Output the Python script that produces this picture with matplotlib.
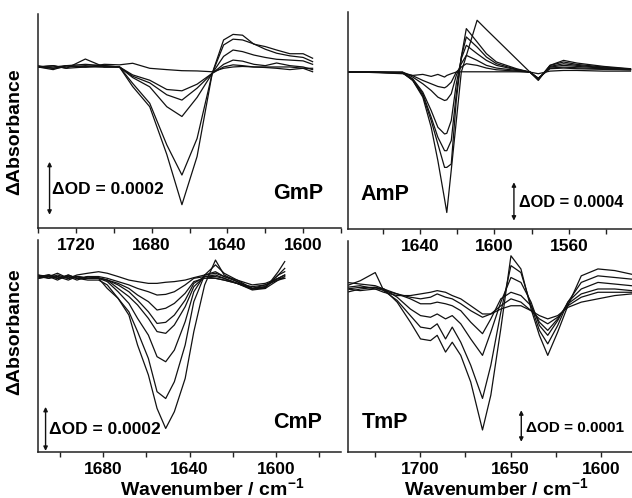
import matplotlib

matplotlib.use("Agg")
import matplotlib.pyplot as plt
from matplotlib.ticker import MultipleLocator

plt.rcParams["font.family"] = ["Liberation Sans", "DejaVu Sans"]
plt.rcParams["font.weight"] = "bold"
plt.rcParams["mathtext.fontset"] = "custom"
plt.rcParams["mathtext.rm"] = "Liberation Sans:bold"
plt.rcParams["mathtext.it"] = "Liberation Sans:bold"
plt.rcParams["mathtext.bf"] = "Liberation Sans:bold"

# values in units of 1e-4 OD
gmp_wn = [1740, 1732, 1725, 1715, 1705, 1697, 1690, 1681, 1672, 1664, 1656,
          1648, 1642, 1637, 1632, 1626, 1620, 1614, 1607, 1600, 1595]
gmp_curves = [
    [0.0, -0.1, 0.05, 0.1, 0.05, 0.0, -0.74, -1.5, -3.3, -5.2, -3.38, -0.24, 1.02, 1.23, 1.2, 0.86, 0.77, 0.64, 0.5, 0.5, 0.33],
    [0.05, -0.05, 0.0, 0.05, 0.0, 0.0, -0.62, -1.37, -2.94, -4.08, -2.7, -0.24, 0.83, 1.05, 1.02, 0.87, 0.67, 0.52, 0.42, 0.36, 0.2],
    [0.0, 0.05, -0.05, 0.0, 0.05, 0.0, -0.4, -0.75, -1.5, -1.87, -1.15, -0.24, 0.4, 0.64, 0.58, 0.45, 0.36, 0.29, 0.26, 0.23, 0.1],
    [0.0, -0.05, 0.05, 0.0, 0.0, 0.0, -0.35, -0.6, -1.05, -1.25, -0.8, -0.24, 0.1, 0.26, 0.22, 0.1, 0.05, 0.15, 0.05, 0.0, -0.1],
    [0.0, 0.05, -0.05, 0.3, 0.0, 0.0, -0.3, -0.5, -0.85, -0.9, -0.65, -0.24, 0.0, 0.08, 0.05, 0.0, -0.02, -0.05, -0.1, -0.05, -0.18],
    [0.0, 0.0, 0.05, 0.0, 0.1, 0.08, 0.14, -0.05, -0.1, -0.14, -0.15, -0.18, -0.05, 0.0, 0.02, 0.0, 0.0, 0.0, 0.0, -0.05, -0.05],
]

amp_wn = [1680, 1667.4, 1649.3, 1643.9, 1638.5, 1634.0, 1630.4, 1626.8, 1625.6, 1623.2, 1620.5, 1617.8,
          1615.1, 1609.3, 1604.3, 1598.9, 1588.1, 1580.9, 1576.4, 1570.1, 1562.8, 1555.6, 1541.2, 1526.8]
amp_curves = [
    [0, 0, 0, -0.87, -2.61, -5.75, -9.23, -13.24, -14.63, -10.21, -5.12, 0, 1.71, 5.40, 4.43, 3.41, 1.36, 0, -0.87, 0.70, 1.22, 0.94, 0.59, 0.35],
    [0, 0, -0.10, -0.87, -2.44, -5.05, -7.49, -9.93, -9.93, -9.58, -2.96, 1.57, 4.53, 3.14, 1.92, 1.05, 0.35, 0, -0.77, 0.70, 1.05, 0.80, 0.52, 0.31],
    [0, 0, -0.10, -0.80, -2.26, -4.70, -6.79, -8.19, -8.19, -7.14, -2.26, 1.57, 3.66, 2.61, 1.57, 0.87, 0.28, 0, -0.73, 0.59, 0.87, 0.70, 0.45, 0.28],
    [0, 0, -0.07, -0.70, -2.09, -4.01, -5.75, -6.45, -6.38, -5.05, -1.22, 1.39, 2.79, 1.92, 1.22, 0.70, 0.24, 0, -0.70, 0.52, 0.70, 0.59, 0.42, 0.28],
    [0, 0, -0.03, -0.52, -1.22, -1.92, -2.61, -2.96, -2.89, -2.26, -0.35, 0.87, 1.74, 1.22, 0.70, 0.42, 0.17, 0, -0.66, 0.42, 0.52, 0.45, 0.35, 0.24],
    [0, 0, -0.03, -0.38, -0.87, -1.22, -1.50, -1.64, -1.50, -1.05, 0, 0.52, 0.87, 0.70, 0.42, 0.24, 0.10, 0, -0.63, 0.35, 0.42, 0.35, 0.28, 0.24],
    [0, -0.03, -0.17, -0.35, -0.24, -0.45, -0.24, -0.52, -0.35, -0.17, 0, 0.03, 0.03, 0.03, 0.03, 0.03, 0.03, 0, -0.17, 0.10, 0.17, 0.17, 0.10, 0.10],
]

cmp_wn = [1710, 1705, 1701, 1696, 1692, 1687, 1682, 1678, 1673, 1668, 1664, 1659, 1655,
          1651, 1647, 1642, 1638, 1633, 1628, 1624, 1618, 1611, 1605, 1599, 1596]
cmp_curves = [
    [0.02, 0.09, -0.06, 0.02, -0.06, -0.14, -0.14, -0.36, -0.97, -1.73, -3.09, -4.45, -5.97, -6.88, -6.12, -4.61, -2.48, -0.36, 0.77, 0.09, -0.21, -0.52, -0.52, -0.14, 0.02],
    [0.09, 0.02, 0.17, -0.06, 0.02, -0.06, -0.06, -0.52, -0.97, -1.58, -2.48, -3.70, -5.21, -5.52, -4.76, -3.09, -1.12, 0.09, 0.55, 0.17, -0.14, -0.52, -0.44, -0.06, 0.09],
    [-0.06, 0.02, -0.14, 0.09, -0.06, -0.06, -0.06, -0.21, -0.67, -1.20, -1.88, -2.64, -3.62, -3.85, -3.32, -2.03, -0.67, 0.09, 0.24, 0.02, -0.21, -0.55, -0.48, 0.09, 0.39],
    [0.09, -0.06, 0.02, -0.14, 0.02, -0.06, -0.06, -0.14, -0.52, -0.89, -1.27, -1.88, -2.48, -2.56, -2.18, -1.35, -0.44, 0.02, 0.09, -0.06, -0.29, -0.59, -0.52, 0.24, 0.70],
    [-0.06, 0.09, -0.06, 0.02, -0.14, 0.02, -0.06, -0.14, -0.36, -0.67, -1.05, -1.58, -2.11, -2.06, -1.73, -1.05, -0.29, 0.02, 0.02, -0.06, -0.29, -0.55, -0.44, 0.09, 0.24],
    [0.02, -0.06, 0.09, -0.06, 0.02, -0.06, -0.03, -0.14, -0.29, -0.52, -0.82, -1.12, -1.50, -1.42, -1.20, -0.74, -0.21, -0.06, -0.06, -0.14, -0.29, -0.52, -0.36, -0.06, -0.06],
    [-0.06, 0.02, -0.06, 0.09, -0.06, 0.02, 0.02, -0.06, -0.21, -0.36, -0.52, -0.67, -0.82, -0.79, -0.67, -0.36, -0.06, 0.02, -0.06, -0.14, -0.29, -0.44, -0.36, -0.14, -0.06],
    [0.02, 0.09, 0.02, -0.06, 0.09, 0.17, 0.24, 0.17, 0.02, -0.14, -0.21, -0.29, -0.29, -0.24, -0.21, -0.14, -0.03, 0.09, 0.17, 0.02, -0.14, -0.36, -0.29, -0.06, 0.09],
]

tmp_wn = [1740.4, 1733.0, 1724.7, 1720.0, 1712.6, 1705.3, 1699.7, 1694.2, 1690.5, 1685.9, 1682.2, 1677.5, 1672.0, 1665.5,
          1660.9, 1655.4, 1649.8, 1644.3, 1638.7, 1634.1, 1629.5, 1624.0, 1618.4, 1611.0, 1601.8, 1592.5, 1583.3]
tmp_curves = [
    [0.01, 0.06, -0.04, -0.04, -0.44, -1.05, -1.56, -1.61, -1.45, -1.96, -1.66, -2.06, -2.87, -4.33, -3.27, -1.25, 0.97, 0.57, -0.65, -1.45, -2.06, -1.35, -0.55, 0.36, 0.57, 0.52, 0.41],
    [0.06, 0.21, 0.46, -0.09, -0.39, -0.85, -1.20, -1.25, -1.10, -1.56, -1.20, -1.66, -2.36, -3.37, -2.36, -0.75, 0.67, 0.46, -0.55, -1.30, -1.71, -1.15, -0.44, 0.16, 0.36, 0.31, 0.26],
    [0.16, 0.11, 0.06, -0.04, -0.29, -0.65, -0.85, -0.90, -0.80, -0.95, -0.85, -1.10, -1.56, -2.06, -1.35, -0.44, 0.31, 0.16, -0.44, -1.15, -1.45, -1.00, -0.44, -0.04, 0.16, 0.11, 0.06],
    [-0.04, 0.01, 0.01, -0.04, -0.19, -0.34, -0.49, -0.49, -0.44, -0.49, -0.55, -0.70, -1.05, -1.40, -0.95, -0.34, -0.14, -0.24, -0.55, -1.05, -1.30, -0.95, -0.49, -0.19, -0.04, -0.04, -0.09],
    [-0.14, -0.04, 0.01, -0.09, -0.19, -0.29, -0.34, -0.29, -0.19, -0.29, -0.34, -0.49, -0.70, -0.90, -0.80, -0.55, -0.34, -0.44, -0.70, -0.95, -1.10, -0.90, -0.55, -0.29, -0.14, -0.14, -0.14],
    [-0.04, -0.09, -0.04, -0.14, -0.24, -0.24, -0.19, -0.14, -0.09, -0.14, -0.24, -0.34, -0.55, -0.80, -0.80, -0.65, -0.55, -0.55, -0.70, -0.85, -0.95, -0.85, -0.60, -0.44, -0.34, -0.24, -0.19],
]

W, H = 632, 498


def frac_rect(left, top, right, bottom):
    return [left / W, 1 - bottom / H, (right - left) / W, (bottom - top) / H]


def style_axis(ax, xlim, ylim, major, minor):
    ax.set_xlim(*xlim)
    ax.set_ylim(*ylim)
    for side in ("top", "right"):
        ax.spines[side].set_visible(False)
    for side in ("left", "bottom"):
        ax.spines[side].set_linewidth(1.1)
        ax.spines[side].set_color("#222222")
    ax.set_yticks([])
    ax.xaxis.set_major_locator(MultipleLocator(major))
    ax.xaxis.set_minor_locator(MultipleLocator(minor))
    ax.tick_params(axis="x", which="both", direction="out", length=3.5, width=1.0,
                   color="#222222", labelsize=12.5, pad=3.5)
    for lbl in ax.get_xticklabels():
        lbl.set_fontweight("bold")


def scale_bar(ax, x, y0, y1, text_x, text_y, text, size):
    ax.annotate("", xy=(x, y0), xytext=(x, y1),
                arrowprops=dict(arrowstyle="<|-|>", color="#111111", lw=1.0,
                                mutation_scale=6, shrinkA=0, shrinkB=0))
    ax.text(text_x, text_y, text, ha="left", va="center", fontsize=size, fontweight="bold")


def main():
    fig = plt.figure(figsize=(W / 100, H / 100), dpi=100)

    panels = [
        dict(rect=frac_rect(38, 14, 341, 228), wn=gmp_wn, curves=gmp_curves,
             xlim=(1740, 1580), ylim=(-6.08, 2.0), major=40, minor=20,
             name="GmP", name_xy=(1616, -4.79),
             bar=(1733.9, -3.58, -5.58, 1732.5, -4.64, "ΔOD = 0.0002", 12.5)),
        dict(rect=frac_rect(347.5, 12, 632, 229), wn=amp_wn, curves=amp_curves,
             xlim=(1679, 1526), ylim=(-16.35, 6.26), major=40, minor=20,
             name="AmP", name_xy=(1671.8, -12.77),
             bar=(1589.5, -11.48, -15.48, 1587.0, -13.6, "ΔOD = 0.0004", 11.8)),
        dict(rect=frac_rect(38, 240, 341, 452), wn=cmp_wn, curves=cmp_curves,
             xlim=(1710, 1570), ylim=(-7.95, 1.68), major=40, minor=20,
             name="CmP", name_xy=(1601.2, -6.6),
             bar=(1706.5, -5.9, -7.9, 1705.0, -6.95, "ΔOD = 0.0002", 12.5)),
        dict(rect=frac_rect(347.5, 241, 632, 452), wn=tmp_wn, curves=tmp_curves,
             xlim=(1740, 1583), ylim=(-5.0, 1.42), major=50, minor=25,
             name="TmP", name_xy=(1731.9, -4.1),
             bar=(1644.1, -3.73, -4.69, 1641.6, -4.28, "ΔOD = 0.0001", 11.0)),
    ]

    for p in panels:
        ax = fig.add_axes(p["rect"])
        ax.patch.set_alpha(0)
        for curve in p["curves"]:
            ax.plot(p["wn"], curve, color="#111111", linewidth=0.9)
        style_axis(ax, p["xlim"], p["ylim"], p["major"], p["minor"])
        ax.text(*p["name_xy"], p["name"], ha="left", va="center", fontsize=15.5, fontweight="bold")
        scale_bar(ax, *p["bar"])

    for yc in (132, 332):
        fig.text(15 / W, 1 - yc / H, "ΔAbsorbance", rotation=90, ha="center", va="center",
                 fontsize=14, fontweight="bold")
    for xc in (212, 496):
        fig.text(xc / W, 1 - 488 / H, "Wavenumber / cm$^{-1}$", ha="center", va="center",
                 fontsize=14, fontweight="bold")

    fig.savefig("out.png", dpi=100)
    plt.close(fig)


if __name__ == "__main__":
    main()
